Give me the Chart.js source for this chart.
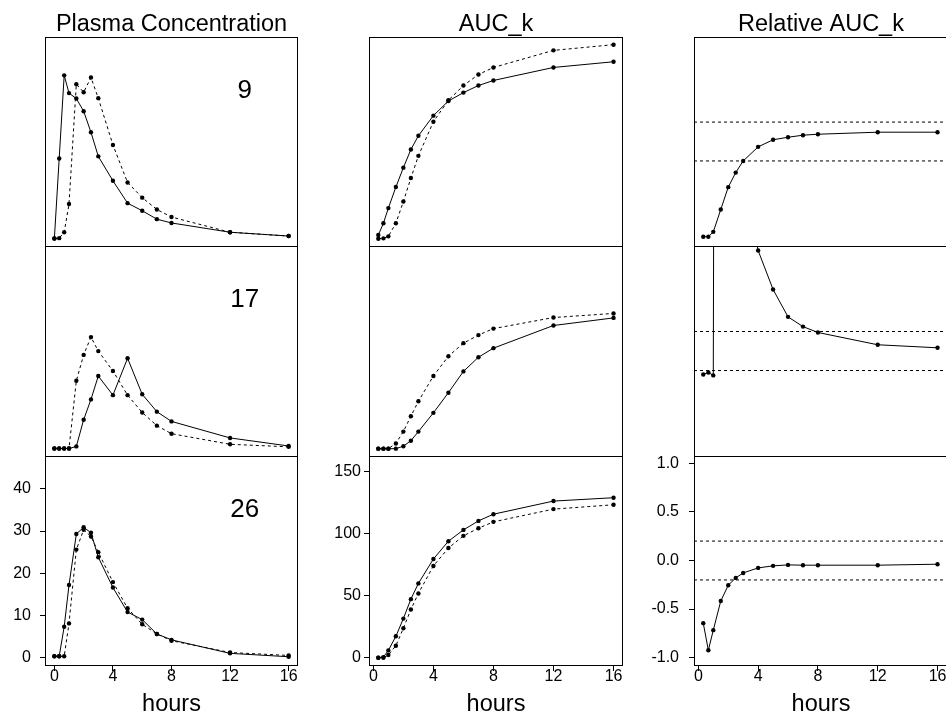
<!DOCTYPE html>
<html>
<head>
<meta charset="utf-8">
<script src="https://cdn.jsdelivr.net/npm/chart.js@4.4.0/dist/chart.umd.min.js"></script>
<style>
  body {
    margin: 0;
    width: 946px;
    height: 714px;
    overflow: hidden;
    position: relative;
    background: #fff;
  }
  canvas { position: absolute; }
</style>
</head>
<body>
<script>
// sampling times
const hours = [0, 0.33, 0.67, 1, 1.5, 2, 2.5, 3, 4, 5, 6, 7, 8, 12, 16];
const aucHours = [0.33, 0.67, 1, 1.5, 2, 2.5, 3, 4, 5, 6, 7, 8, 12, 16];
const subjects = ['9', '17', '26'];
const titles = ['Plasma Concentration', 'AUC_k', 'Relative AUC_k'];

// plasma concentration (a = solid, b = dashed)
const conc9a  = [0, 19.0, 38.7, 34.5, 33.2, 30.2, 25.2, 19.5, 13.7, 8.4, 6.6, 4.6, 3.7, 1.5, 0.6];
const conc9b  = [0, 0.1, 1.5, 8.2, 36.6, 34.7, 38.2, 33.3, 22.2, 13.3, 9.7, 6.9, 5.1, 1.5, 0.6];
const conc17a = [0, 0, 0, 0, 0.5, 6.8, 11.6, 17.1, 12.6, 21.3, 12.8, 8.7, 6.4, 2.5, 0.6];
const conc17b = [0, 0, 0, 0, 16.0, 22.1, 26.3, 23.0, 18.3, 12.6, 8.5, 5.4, 3.5, 1.0, 0.4];
const conc26a = [0.3, 0.3, 7.3, 17.2, 29.3, 30.9, 29.6, 23.8, 16.6, 10.8, 9.0, 5.6, 4.2, 1.0, 0.2];
const conc26b = [0.3, 0.3, 0.3, 8.1, 25.6, 30.3, 28.7, 25.0, 17.9, 11.7, 7.9, 5.6, 4.0, 1.2, 0.5];

// cumulative AUC
const auc9a  = [3.0, 12.5, 24.7, 41.7, 57.4, 72.0, 83.1, 99.4, 111.2, 118.0, 123.7, 127.8, 138.3, 142.9];
const auc9b  = [0, 0.3, 1.9, 12.5, 30.0, 49.0, 66.9, 94.5, 111.8, 123.7, 132.6, 138.3, 152.1, 156.7];
const auc17a = [0, 0, 0, 0, 2.0, 6.4, 13.7, 28.8, 45.0, 62.1, 73.5, 80.8, 99.0, 105.1];
const auc17b = [0, 0, 0, 4.2, 13.7, 26.1, 38.1, 58.4, 74.3, 84.8, 91.3, 96.5, 105.4, 108.7];
const auc26a = [0, 0.5, 5.9, 17.3, 31.6, 47.3, 60.0, 79.7, 94.1, 103.2, 110.5, 115.9, 126.5, 129.2];
const auc26b = [0, 0, 2.2, 9.7, 23.8, 38.9, 51.9, 74.1, 88.6, 98.4, 104.6, 109.7, 120.0, 123.5];

// relative AUC
const rel9  = [-0.98, -0.98, -0.93, -0.70, -0.47, -0.32, -0.20, -0.055, 0.018, 0.044, 0.065, 0.075, 0.096, 0.096];
const rel17 = [-0.24, -0.22, -0.25, 32, 5.85, 3.1, 1.78, 1.03, 0.63, 0.35, 0.25, 0.19, 0.064, 0.033];
const rel26 = [-0.645, -0.924, -0.717, -0.417, -0.255, -0.179, -0.128, -0.076, -0.055, -0.045, -0.048, -0.048, -0.048, -0.038];
const relLimits = [-0.2, 0.2];

// ticks
const xTicks = [0, 4, 8, 12, 16];
const concTicks = [0, 10, 20, 30, 40];
const aucTicks = [0, 50, 100, 150];
const relTicks = [-1.0, -0.5, 0.0, 0.5, 1.0];

// panel geometry (pixel lines of the boxes)
const rowLines = [37, 246, 456, 665];
const colLines = [[45, 297], [369, 622], [694, 947]];
const yAxisW = 45, xAxisH = 56;
const family = "'Liberation Sans', Arial, Helvetica, sans-serif";
Chart.defaults.font.family = family;
Chart.defaults.color = '#000';

const columns = [
  { x: hours, xMin: -0.64, xMax: 16.64, yMin: -2, yMax: 47.8, yTicks: concTicks, tickPad: 9, fmt: v => String(v),
    rows: [[conc9a, conc9b], [conc17a, conc17b], [conc26a, conc26b]] },
  { x: aucHours, xMin: -0.29, xMax: 16.63, yMin: -6.7, yMax: 162.9, yTicks: aucTicks, tickPad: 3, fmt: v => String(v),
    rows: [[auc9a, auc9b], [auc17a, auc17b], [auc26a, auc26b]] },
  { x: aucHours, xMin: -0.29, xMax: 16.7, yMin: -1.086, yMax: 1.076, yTicks: relTicks, tickPad: 10, fmt: v => v.toFixed(1),
    rows: [[rel9], [rel17], [rel26]], limits: relLimits }
];

// box around each panel
const frame = {
  id: 'frame',
  afterDraw(chart) {
    const a = chart.chartArea, ctx = chart.ctx;
    ctx.save();
    ctx.strokeStyle = '#000';
    ctx.lineWidth = 1;
    ctx.strokeRect(Math.round(a.left) + 0.5, Math.round(a.top) + 0.5,
      Math.round(a.right - a.left) - 1, Math.round(a.bottom - a.top) - 1);
    ctx.restore();
  }
};

// subject number inside the concentration panels
const panelLabel = {
  id: 'panelLabel',
  afterDatasetsDraw(chart, args, opts) {
    if (!opts.text) return;
    const ctx = chart.ctx;
    ctx.save();
    ctx.font = '26px ' + family;
    ctx.fillStyle = '#000';
    ctx.textAlign = 'center';
    ctx.textBaseline = 'middle';
    ctx.fillText(opts.text, chart.scales.x.getPixelForValue(13), chart.scales.y.getPixelForValue(35));
    ctx.restore();
  }
};

function pts(xs, ys) {
  return xs.map((x, i) => ({ x: x, y: ys[i] }));
}

columns.forEach((col, c) => {
  col.rows.forEach((series, r) => {
    const [l, rgt] = colLines[c];
    const top = rowLines[r], bot = rowLines[r + 1];
    const w = rgt - l + 1, h = bot - top + 1;
    const isTop = r === 0, isBottom = r === 2;

    const canvas = document.createElement('canvas');
    canvas.width = w + (isBottom ? yAxisW : 0);
    canvas.height = h + (isTop ? top : 0) + (isBottom ? xAxisH : 0);
    canvas.style.left = (isBottom ? l - yAxisW : l) + 'px';
    canvas.style.top = (isTop ? 0 : top) + 'px';
    document.body.appendChild(canvas);

    const datasets = series.map((ys, i) => ({
      data: pts(col.x, ys),
      borderColor: '#000',
      borderWidth: 1,
      borderDash: i === 1 ? [3, 3] : [],
      pointRadius: 2.2,
      pointHoverRadius: 0,
      pointBackgroundColor: '#000',
      pointBorderWidth: 0,
      tension: 0,
      clip: 0
    }));
    if (col.limits) {
      col.limits.forEach(lim => datasets.push({
        data: [{ x: col.xMin, y: lim }, { x: col.xMax, y: lim }],
        borderColor: '#000',
        borderWidth: 1,
        borderDash: [3, 3],
        pointRadius: 0,
        clip: 0
      }));
    }

    new Chart(canvas, {
      type: 'line',
      data: { datasets },
      options: {
        animation: false,
        responsive: false,
        events: [],
        layout: { padding: 0, autoPadding: false },
        plugins: {
          legend: { display: false },
          tooltip: { enabled: false },
          title: {
            display: isTop,
            text: titles[c],
            color: '#000',
            font: { size: 23.5, weight: 'normal', lineHeight: '25px' },
            padding: { top: 12, bottom: 0 }
          },
          panelLabel: { text: c === 0 ? subjects[r] : '' }
        },
        scales: {
          x: {
            type: 'linear',
            min: col.xMin,
            max: col.xMax,
            display: isBottom,
            afterBuildTicks: s => { s.ticks = xTicks.map(v => ({ value: v })); },
            afterFit: s => {
              if (!isBottom) return;
              s.height = xAxisH; s.paddingLeft = 0; s.paddingRight = 0;
            },
            grid: { drawOnChartArea: false, drawTicks: true, tickLength: 5, color: '#000' },
            border: { display: false },
            ticks: { font: { size: 16 }, color: '#000', padding: -4.5, maxRotation: 0, autoSkip: false },
            title: {
              display: true,
              text: 'hours',
              color: '#000',
              font: { size: 23.5, lineHeight: '28px' },
              padding: { top: 0, bottom: 3 }
            }
          },
          y: {
            type: 'linear',
            min: col.yMin,
            max: col.yMax,
            display: isBottom,
            afterBuildTicks: s => { s.ticks = col.yTicks.map(v => ({ value: v })); },
            afterFit: s => {
              if (!isBottom) return;
              s.width = yAxisW; s.paddingTop = 0; s.paddingBottom = 0;
            },
            grid: { drawOnChartArea: false, drawTicks: true, tickLength: 5, color: '#000' },
            border: { display: false },
            ticks: { font: { size: 16 }, color: '#000', padding: col.tickPad, callback: v => col.fmt(v) }
          }
        }
      },
      plugins: [frame, panelLabel]
    });
  });
});
</script>
</body>
</html>
